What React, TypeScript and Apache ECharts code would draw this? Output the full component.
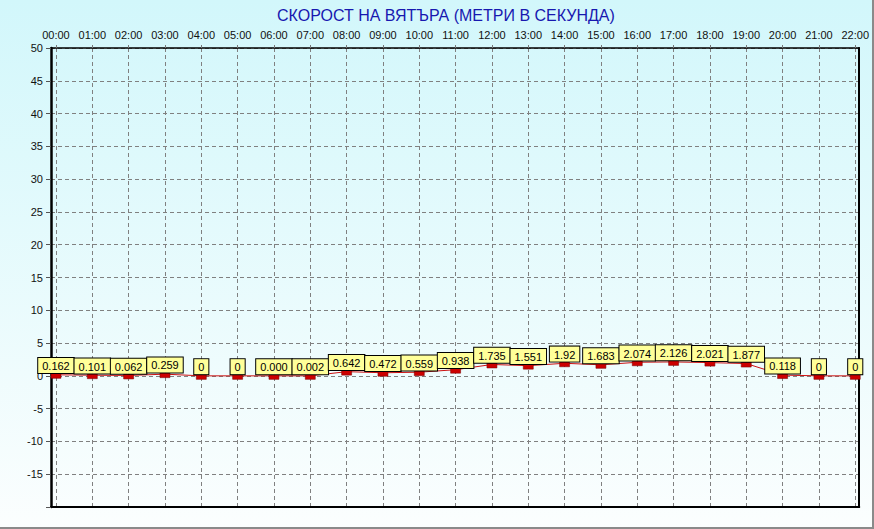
import React, { useEffect, useRef } from "react";
import * as echarts from "echarts";

const hours = [
  "00:00", "01:00", "02:00", "03:00", "04:00", "05:00", "06:00", "07:00",
  "08:00", "09:00", "10:00", "11:00", "12:00", "13:00", "14:00", "15:00",
  "16:00", "17:00", "18:00", "19:00", "20:00", "21:00", "22:00",
];
const windSpeedText = [
  "0.162", "0.101", "0.062", "0.259", "0", "0", "0.000", "0.002",
  "0.642", "0.472", "0.559", "0.938", "1.735", "1.551", "1.92", "1.683",
  "2.074", "2.126", "2.021", "1.877", "0.118", "0", "0",
];
const yMin = -20;
const yMax = 50;
const yStep = 5;
const titleText = "СКОРОСТ НА ВЯТЪРА (МЕТРИ В СЕКУНДА)";

const FONT = "'Liberation Sans', Arial, sans-serif";

export default function App() {
  const ref = useRef<HTMLDivElement>(null);
  useEffect(() => {
    if (!ref.current) return;
    const chart = echarts.init(ref.current, undefined, { renderer: "svg" });
    const hourIdx = hours.map((_, i) => i);
    const data = windSpeedText.map((t, i) => [i, Number(t)]);
    chart.setOption({
      animation: false,
      backgroundColor: new echarts.graphic.LinearGradient(0, 0, 0, 1, [
        { offset: 0, color: "#d2f7fb" },
        { offset: 1, color: "#fbfefe" },
      ]),
      title: {
        text: titleText,
        left: 272,
        top: 2,
        textStyle: { fontFamily: FONT, fontSize: 16, fontWeight: "normal", color: "#1818b0" },
      },
      grid: { left: 51, right: 9, top: 48, bottom: 20, containLabel: false },
      xAxis: [
        {
          type: "value",
          position: "top",
          min: -0.137,
          max: 22.11,
          axisLine: { show: true, onZero: false, lineStyle: { color: "#000", width: 1.5 } },
          axisTick: {
            show: true,
            customValues: hourIdx,
            length: 3,
            lineStyle: { color: "#777", type: "dashed" },
          },
          axisLabel: {
            customValues: hourIdx,
            formatter: (v: number) => hours[Math.round(v)] ?? "",
            fontFamily: FONT,
            fontSize: 11,
            color: "#111",
            margin: 8,
          },
          splitLine: { show: true, lineStyle: { color: "#808080", type: [4, 3], width: 1 } },
        },
        {
          type: "value",
          position: "bottom",
          min: -0.137,
          max: 22.11,
          axisLine: { show: true, onZero: false, lineStyle: { color: "#000", width: 2 } },
          axisTick: { show: false },
          axisLabel: { show: false },
          splitLine: { show: false },
        },
      ],
      yAxis: [
        {
          type: "value",
          min: yMin,
          max: yMax,
          interval: yStep,
          axisLine: { show: true, onZero: false, lineStyle: { color: "#000", width: 2.5 } },
          axisTick: { show: true, length: 5, lineStyle: { color: "#555" } },
          axisLabel: {
            fontFamily: FONT,
            fontSize: 11,
            color: "#111",
            margin: 8,
            formatter: (v: number) => (v === yMin ? "" : String(v)),
          },
          splitLine: { show: true, lineStyle: { color: "#808080", type: [4, 3], width: 1 } },
        },
        {
          type: "value",
          position: "right",
          min: yMin,
          max: yMax,
          interval: yStep,
          axisLine: { show: true, onZero: false, lineStyle: { color: "#000", width: 2 } },
          axisTick: { show: false },
          axisLabel: { show: false },
          splitLine: { show: false },
        },
      ],
      series: [
        {
          type: "line",
          xAxisIndex: 0,
          yAxisIndex: 0,
          data,
          lineStyle: { color: "#cc1010", width: 1 },
          symbol: "rect",
          symbolSize: [10, 5],
          symbolOffset: [0, 1],
          itemStyle: { color: "#cc0000", borderColor: "#7a0000", borderWidth: 0.5 },
          label: {
            show: true,
            position: "top",
            distance: 0,
            formatter: (p: any) => windSpeedText[p.dataIndex],
            fontFamily: FONT,
            fontSize: 11,
            lineHeight: 12,
            color: "#000",
            backgroundColor: "#ffff99",
            borderColor: "#000",
            borderWidth: 1,
            padding: [2, 4, 1, 4],
          },
          z: 5,
        },
      ],
    });
    return () => chart.dispose();
  }, []);
  return (
    <div
      style={{
        position: "fixed",
        left: 0,
        top: 0,
        width: 872,
        height: 527,
        borderRight: "2px solid #8a8a8a",
        borderBottom: "2px solid #8a8a8a",
      }}
    >
      <div ref={ref} style={{ width: 872, height: 527 }} />
    </div>
  );
}
